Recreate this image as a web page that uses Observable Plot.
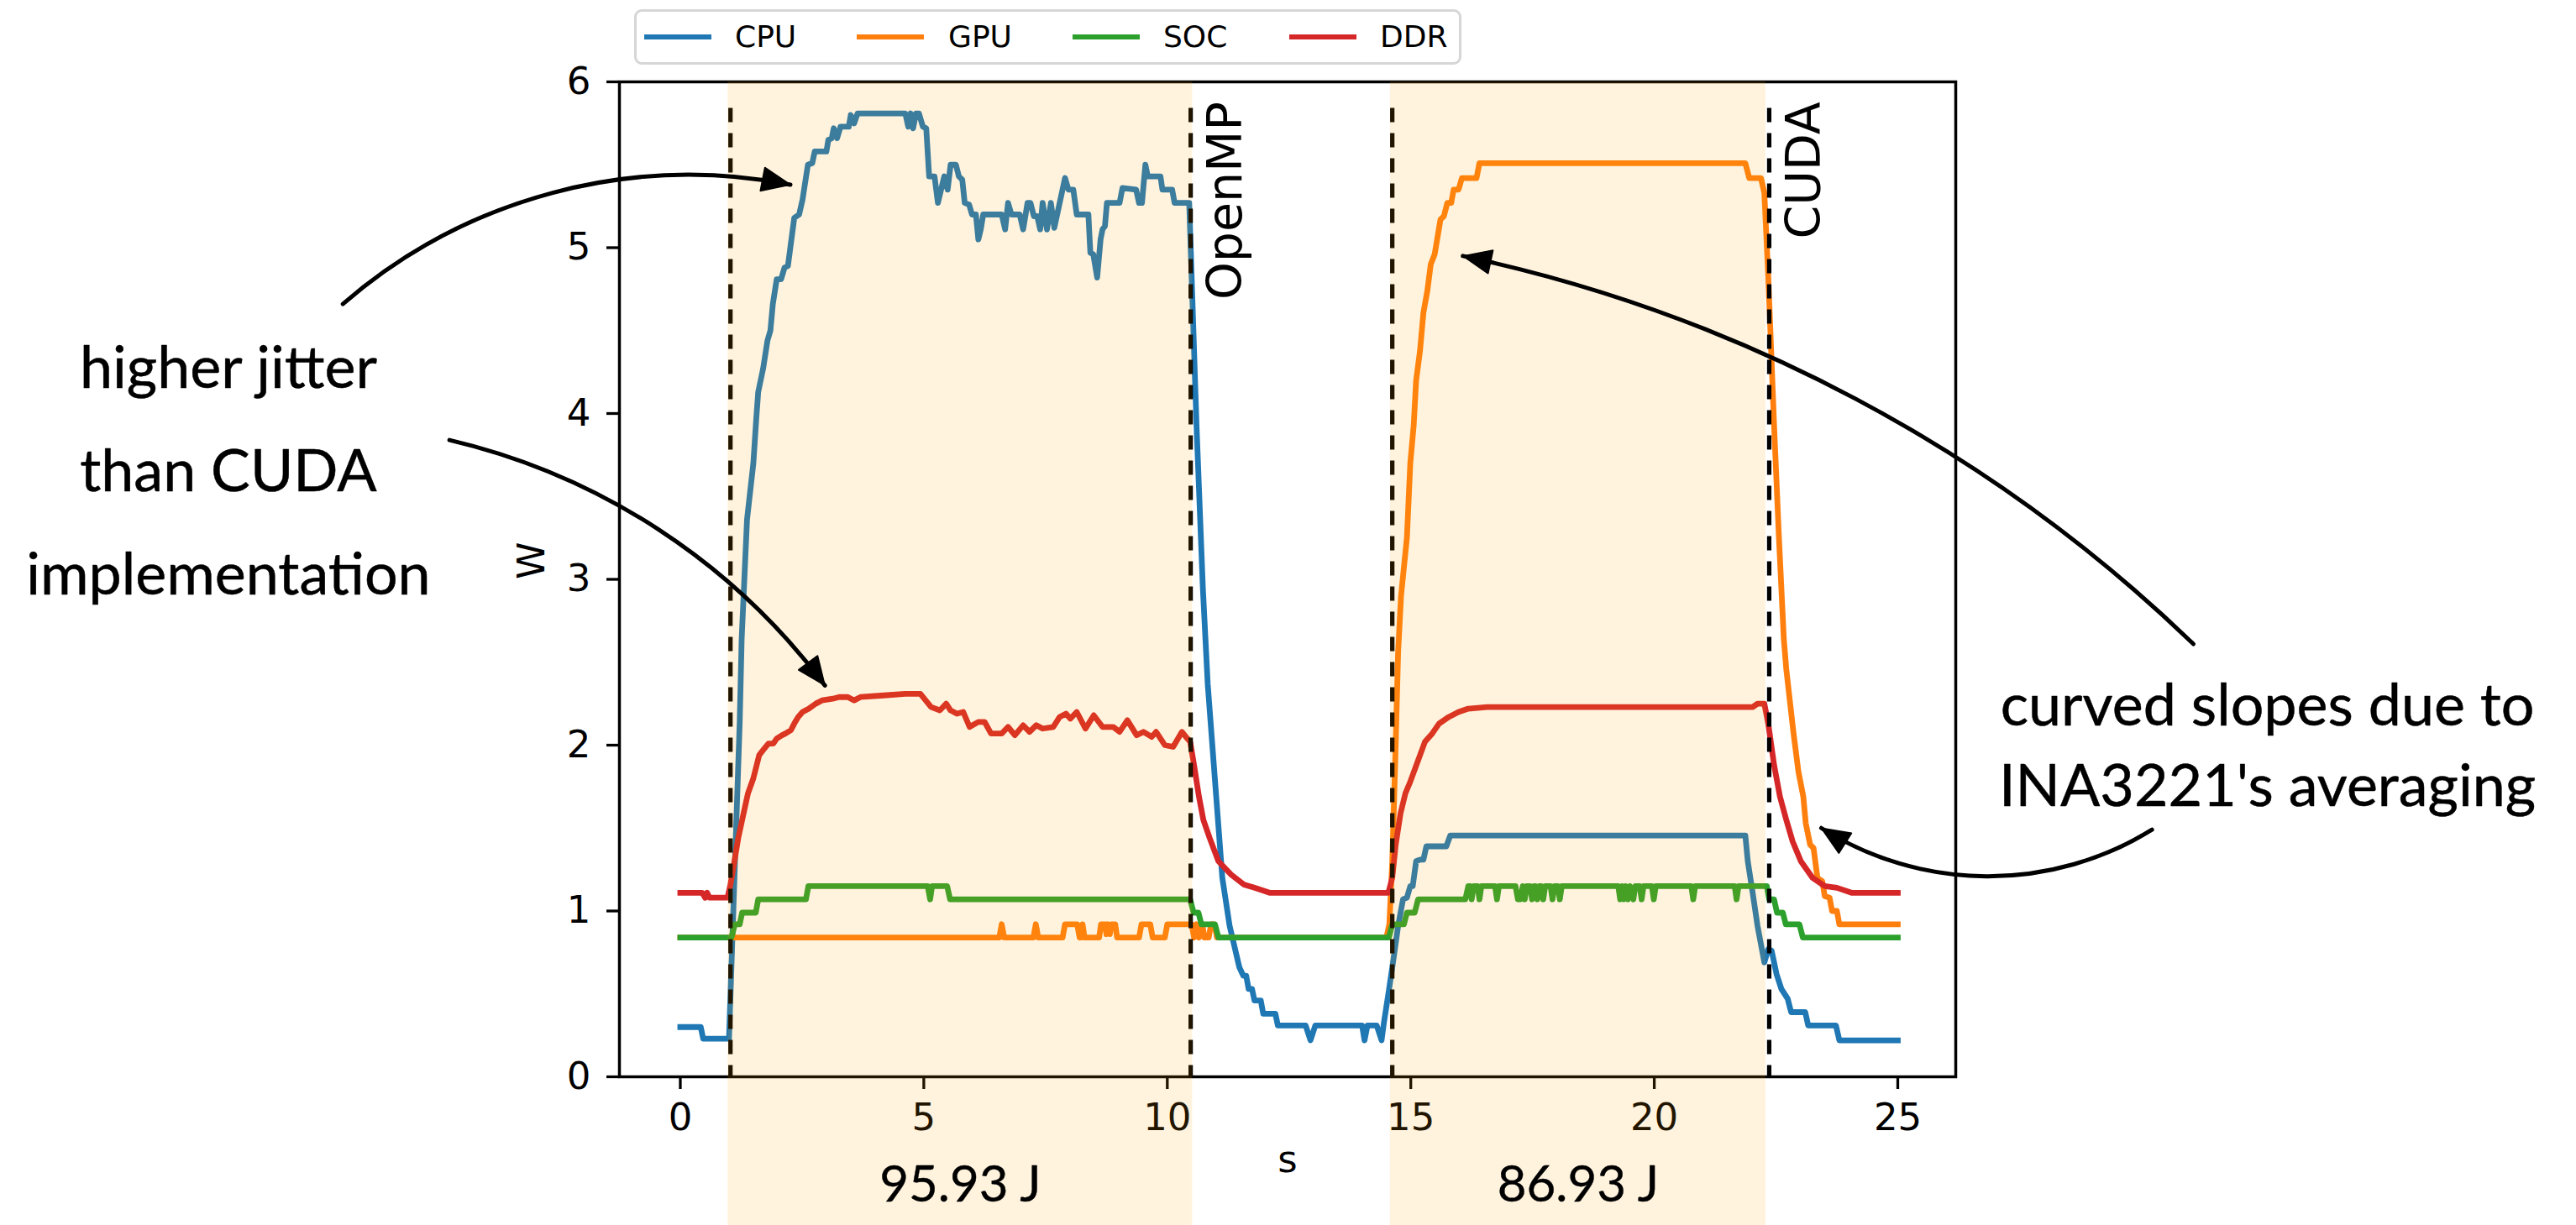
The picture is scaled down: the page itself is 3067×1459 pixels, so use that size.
<!DOCTYPE html>
<html>
<head>
<meta charset="utf-8">
<script src="https://cdn.jsdelivr.net/npm/d3@7"></script>
<script src="https://cdn.jsdelivr.net/npm/@observablehq/plot@0.6"></script>
<style>
html, body { margin: 0; padding: 0; background: #fff; overflow: hidden; }
#wrap { position: relative; width: 3067px; height: 1459px; overflow: hidden; background: #fff; }
#legend { position: absolute; left: 755px; top: 11px; width: 979px; height: 60px; border: 3px solid #d6d6d6; border-radius: 9px; background: #fff; font-family: "DejaVu Sans"; font-size: 36px; color: #000; }
#legend .sw { position: absolute; top: 27px; width: 80px; height: 6px; }
#legend .lb { position: absolute; top: 9px; line-height: 42px; }
</style>
</head>
<body>
<div id="wrap"><div id="chart"></div><div id="legend"></div></div>
<script>
// ---------- data ----------
const seriesNames = ["CPU", "GPU", "SOC", "DDR"];
const seriesColors = ["#1f77b4", "#ff7f0e", "#2ca02c", "#d62728"];
const xTicks = [0, 5, 10, 15, 20, 25];
const yTicks = [0, 1, 2, 3, 4, 5, 6];

// [time s, power W]
const cpu = [[0,0.30],[0.42,0.30],[0.47,0.23],[1.0,0.23],[1.1,1.1],[1.22,2.14],[1.26,2.64],[1.37,3.36],[1.50,3.70],[1.56,3.97],[1.60,4.13],[1.70,4.27],[1.79,4.44],[1.85,4.50],[1.90,4.66],[1.98,4.81],[2.07,4.81],[2.14,4.88],[2.21,4.89],[2.34,5.18],[2.44,5.20],[2.51,5.29],[2.62,5.50],[2.71,5.51],[2.76,5.58],[3.00,5.58],[3.04,5.65],[3.11,5.66],[3.15,5.72],[3.22,5.66],[3.29,5.73],[3.46,5.73],[3.50,5.80],[3.57,5.75],[3.64,5.81],[4.62,5.81],[4.68,5.73],[4.73,5.81],[4.78,5.72],[4.84,5.81],[4.90,5.81],[4.98,5.73],[5.05,5.72],[5.11,5.43],[5.22,5.43],[5.29,5.27],[5.42,5.43],[5.49,5.35],[5.55,5.50],[5.66,5.50],[5.72,5.43],[5.79,5.41],[5.84,5.27],[5.93,5.26],[5.99,5.20],[6.07,5.20],[6.12,5.05],[6.17,5.11],[6.22,5.20],[6.60,5.20],[6.67,5.11],[6.73,5.27],[6.80,5.20],[6.97,5.20],[7.04,5.11],[7.13,5.27],[7.19,5.27],[7.26,5.19],[7.33,5.19],[7.39,5.11],[7.44,5.27],[7.53,5.11],[7.61,5.27],[7.68,5.12],[7.90,5.42],[7.97,5.35],[8.07,5.35],[8.14,5.20],[8.38,5.20],[8.42,4.97],[8.48,4.96],[8.56,4.82],[8.63,5.05],[8.67,5.11],[8.72,5.13],[8.76,5.27],[9.02,5.27],[9.08,5.36],[9.36,5.35],[9.42,5.27],[9.48,5.27],[9.55,5.50],[9.60,5.43],[9.86,5.43],[9.90,5.35],[10.10,5.35],[10.15,5.27],[10.45,5.27],[10.6,3.93],[10.73,2.95],[10.83,2.37],[10.93,1.98],[11.03,1.59],[11.13,1.20],[11.28,0.91],[11.48,0.66],[11.56,0.61],[11.62,0.61],[11.67,0.53],[11.74,0.53],[11.79,0.46],[11.92,0.46],[11.97,0.38],[12.22,0.38],[12.27,0.31],[12.84,0.31],[12.94,0.22],[13.04,0.31],[14.00,0.31],[14.05,0.22],[14.11,0.31],[14.30,0.31],[14.40,0.22],[14.45,0.33],[14.55,0.52],[14.64,0.70],[14.74,0.91],[14.84,1.07],[14.92,1.08],[14.99,1.15],[15.04,1.15],[15.11,1.30],[15.19,1.31],[15.26,1.31],[15.32,1.39],[15.73,1.39],[15.81,1.455],[21.87,1.455],[21.92,1.30],[22.02,1.11],[22.12,0.91],[22.26,0.69],[22.34,0.77],[22.41,0.76],[22.51,0.62],[22.61,0.53],[22.74,0.47],[22.81,0.39],[23.10,0.39],[23.16,0.31],[23.73,0.31],[23.80,0.22],[25.0,0.22]];

const gpu = [[0,0.84],[6.55,0.84],[6.6,0.92],[6.65,0.84],[7.25,0.84],[7.3,0.92],[7.35,0.84],[7.85,0.84],[7.9,0.92],[8.15,0.92],[8.2,0.84],[8.23,0.84],[8.26,0.92],[8.3,0.84],[8.6,0.84],[8.64,0.92],[8.72,0.92],[8.75,0.86],[8.78,0.92],[8.82,0.86],[8.85,0.92],[8.93,0.92],[8.97,0.84],[9.42,0.84],[9.47,0.92],[9.65,0.92],[9.7,0.84],[9.95,0.84],[10.0,0.92],[10.5,0.92],[10.55,0.84],[10.6,0.92],[10.65,0.84],[10.72,0.92],[10.76,0.84],[10.85,0.84],[10.9,0.92],[10.97,0.92],[11.02,0.84],[14.5,0.84],[14.56,0.92],[14.62,1.3],[14.68,1.9],[14.74,2.56],[14.8,2.9],[14.92,3.25],[14.99,3.7],[15.06,3.93],[15.11,4.2],[15.19,4.38],[15.26,4.61],[15.34,4.74],[15.41,4.9],[15.49,4.96],[15.53,5.03],[15.61,5.17],[15.68,5.19],[15.75,5.27],[15.83,5.27],[15.88,5.35],[15.98,5.35],[16.05,5.42],[16.35,5.42],[16.41,5.51],[21.87,5.51],[21.95,5.42],[22.19,5.42],[22.26,5.33],[22.34,4.83],[22.46,3.93],[22.56,3.25],[22.66,2.64],[22.71,2.46],[22.86,2.07],[22.96,1.84],[23.06,1.69],[23.11,1.53],[23.2,1.40],[23.27,1.38],[23.35,1.20],[23.45,1.18],[23.5,1.09],[23.6,1.08],[23.65,1.0],[23.75,1.0],[23.8,0.92],[25.0,0.92]];

const soc = [[0,0.84],[1.05,0.84],[1.12,0.92],[1.22,0.92],[1.27,0.99],[1.55,0.99],[1.6,1.07],[2.58,1.07],[2.63,1.15],[5.08,1.15],[5.13,1.07],[5.17,1.15],[5.48,1.15],[5.54,1.07],[10.47,1.07],[10.54,0.99],[10.64,0.99],[10.70,0.92],[10.98,0.92],[11.05,0.84],[14.55,0.84],[14.62,0.92],[14.86,0.92],[14.92,0.99],[15.08,0.99],[15.15,1.07],[16.12,1.07],[16.18,1.15],[16.22,1.15],[16.25,1.07],[16.29,1.15],[16.37,1.15],[16.41,1.07],[16.45,1.15],[16.73,1.15],[16.77,1.07],[16.81,1.15],[17.15,1.15],[17.20,1.07],[17.25,1.07],[17.30,1.15],[17.34,1.07],[17.38,1.15],[17.45,1.15],[17.49,1.07],[17.53,1.15],[17.56,1.15],[17.6,1.07],[17.64,1.15],[17.68,1.15],[17.72,1.07],[17.76,1.15],[17.87,1.15],[17.91,1.07],[17.95,1.15],[18.02,1.15],[18.06,1.07],[18.1,1.15],[19.26,1.15],[19.3,1.07],[19.34,1.15],[19.37,1.07],[19.41,1.15],[19.46,1.07],[19.5,1.15],[19.57,1.07],[19.61,1.15],[19.7,1.15],[19.74,1.07],[19.78,1.15],[19.95,1.15],[19.99,1.07],[20.03,1.15],[20.76,1.15],[20.8,1.07],[20.84,1.15],[21.65,1.15],[21.69,1.07],[21.73,1.15],[22.31,1.15],[22.36,1.07],[22.46,1.07],[22.52,0.99],[22.64,0.99],[22.70,0.92],[22.98,0.92],[23.05,0.84],[25.0,0.84]];

const ddr = [[0,1.11],[0.45,1.11],[0.51,1.08],[0.55,1.11],[0.6,1.08],[0.97,1.08],[1.03,1.16],[1.10,1.28],[1.19,1.44],[1.30,1.59],[1.39,1.71],[1.50,1.80],[1.62,1.94],[1.70,1.97],[1.81,2.01],[1.91,2.01],[1.98,2.04],[2.09,2.06],[2.16,2.07],[2.27,2.09],[2.34,2.13],[2.42,2.17],[2.51,2.20],[2.64,2.22],[2.78,2.25],[2.91,2.27],[3.13,2.28],[3.26,2.29],[3.44,2.29],[3.57,2.27],[3.70,2.29],[4.18,2.30],[4.62,2.31],[4.93,2.31],[5.15,2.23],[5.33,2.21],[5.46,2.25],[5.55,2.21],[5.68,2.19],[5.81,2.20],[5.94,2.11],[6.12,2.14],[6.25,2.14],[6.38,2.07],[6.60,2.07],[6.73,2.11],[6.87,2.06],[7.04,2.12],[7.17,2.08],[7.31,2.12],[7.44,2.10],[7.66,2.11],[7.79,2.17],[7.92,2.19],[8.01,2.16],[8.14,2.20],[8.32,2.10],[8.49,2.18],[8.67,2.11],[8.89,2.11],[9.02,2.08],[9.18,2.15],[9.37,2.06],[9.51,2.08],[9.68,2.05],[9.77,2.08],[9.95,2.00],[10.12,1.99],[10.30,2.08],[10.41,2.04],[10.47,2.02],[10.56,1.86],[10.65,1.69],[10.74,1.55],[10.87,1.44],[11.05,1.30],[11.31,1.22],[11.57,1.16],[11.79,1.14],[12.10,1.11],[14.54,1.11],[14.62,1.20],[14.69,1.40],[14.79,1.59],[14.89,1.71],[14.99,1.78],[15.09,1.86],[15.19,1.94],[15.29,2.02],[15.44,2.07],[15.58,2.13],[15.78,2.17],[15.98,2.20],[16.18,2.22],[16.57,2.23],[22.02,2.23],[22.12,2.25],[22.26,2.25],[22.34,2.13],[22.46,1.88],[22.58,1.69],[22.71,1.55],[22.84,1.42],[23.01,1.30],[23.25,1.20],[23.50,1.15],[23.75,1.14],[24.05,1.11],[25.0,1.11]];

// phases (shaded spans) and their energy labels
const phaseStart = [0.98, 14.58];
const phaseEnd = [10.52, 22.29];
const phaseEnergy = ["95.93 J", "86.93 J"];
// dashed markers
const markerX = [1.03, 10.48, 14.62, 22.36];
const markerTop = 5.84;
const implNames = ["OpenMP", "CUDA"];
const implX = [10.48, 22.36];
// annotations
const noteLeft = "higher jitter\nthan CUDA\nimplementation";
const noteRight = "curved slopes due to\nINA3221's averaging";
const arrowStart = [[-6.93, 4.66], [-4.74, 3.84], [31.07, 2.61], [30.22, 1.49]];
const arrowEnd = [[2.26, 5.38], [2.97, 2.36], [16.07, 4.95], [23.43, 1.50]];
const arrowBend = [26, 20, -16, 32];

// ---------- build ----------
const table = [cpu, gpu, soc, ddr].flatMap((arr, i) => arr.map(([t, w]) => ({series: seriesNames[i], t, w})));
const phases = phaseStart.map((s, i) => ({start: s, end: phaseEnd[i], label: phaseEnergy[i], mid: (s + phaseEnd[i]) / 2}));
const impl = implNames.map((n, i) => ({x: implX[i], text: n}));
const arrows = arrowStart.map((s, i) => ({x1: s[0], y1: s[1], x2: arrowEnd[i][0], y2: arrowEnd[i][1], bend: arrowBend[i]}));

const chart = Plot.plot({
  width: 3067,
  height: 1459,
  marginLeft: 737,
  marginRight: 739,
  marginTop: 97,
  marginBottom: 177,
  style: {fontFamily: "DejaVu Sans", fontSize: "45px", background: "white", color: "black", overflow: "visible"},
  x: {domain: [-1.25, 26.19]},
  y: {domain: [0, 6]},
  color: {domain: seriesNames, range: seriesColors},
  marks: [
    Plot.axisX({ticks: xTicks, tickSize: 15, tickPadding: 17, strokeWidth: 3.3, label: null, tickFormat: d => String(d)}),
    Plot.axisY({ticks: yTicks, tickSize: 15, tickPadding: 19, strokeWidth: 3.3, label: null, tickFormat: d => String(d)}),
    Plot.frame({stroke: "black", strokeWidth: 3.5}),
    ...seriesNames.map(s => Plot.line(table.filter(d => d.series === s), {x: "t", y: "w", stroke: "series", strokeWidth: 6.8, strokeLinejoin: "round", strokeLinecap: "square"})),
    Plot.ruleX(markerX, {x: d => d, y1: markerTop, y2: 0, stroke: "black", strokeWidth: 5.2, strokeDasharray: "17,13"}),
    Plot.rect(phases, {x1: "start", x2: "end", y1: -0.9, y2: 6, fill: "#ffa500", fillOpacity: 0.13}),
    Plot.text(impl, {x: "x", y: 5.88, text: "text", rotate: -90, textAnchor: "end", lineAnchor: "top", dx: 20, fontSize: 57, fontFamily: "DejaVu Sans", fill: "black"}),
    Plot.text(phases, {x: "mid", y: -0.653, text: "label", fontSize: 60, fontFamily: "Lato", fill: "black", stroke: "black", strokeWidth: 0.4}),
    Plot.text(["W"], {frameAnchor: "left", text: d => d, dx: -104, rotate: -90, fontSize: 45, fill: "black"}),
    Plot.text(["s"], {frameAnchor: "bottom", text: d => d, dy: 113, fontSize: 45, fill: "black"}),
    Plot.text([noteLeft], {x: -9.28, y: 3.73, text: d => d, fontSize: 70, lineHeight: 1.76, fontFamily: "Lato", fill: "black", stroke: "black", strokeWidth: 0.5}),
    Plot.text([noteRight], {x: 32.59, y: 2.03, text: d => d, fontSize: 70, lineHeight: 1.37, fontFamily: "Lato", fill: "black", stroke: "black", strokeWidth: 0.5}),
    ...arrows.map(a => Plot.arrow([a], {x1: "x1", y1: "y1", x2: "x2", y2: "y2", bend: a.bend, stroke: "black", strokeWidth: 5, headAngle: 46, headLength: 11}))
  ]
});
document.getElementById("chart").appendChild(chart);

// fill the arrow heads (matplotlib-style "-|>")
chart.querySelectorAll('g[aria-label="arrow"] path').forEach(p => {
  const d = p.getAttribute("d");
  const i = d ? d.indexOf("M", 1) : -1;
  if (i > 0) {
    p.setAttribute("d", d.slice(0, i));
    const h = document.createElementNS("http://www.w3.org/2000/svg", "path");
    h.setAttribute("d", d.slice(i) + "Z");
    h.setAttribute("fill", "black");
    h.setAttribute("stroke", "black");
    h.setAttribute("stroke-width", "1.5");
    h.setAttribute("stroke-linejoin", "miter");
    p.parentNode.appendChild(h);
  }
});

// legend
const legendSwatchX = [9, 262, 519, 777];
const legendLabelX = [117, 371, 627, 885];
const legend = document.getElementById("legend");
seriesNames.forEach((name, i) => {
  const sw = document.createElement("div");
  sw.className = "sw";
  sw.style.left = legendSwatchX[i] + "px";
  sw.style.background = seriesColors[i];
  legend.appendChild(sw);
  const lb = document.createElement("div");
  lb.className = "lb";
  lb.style.left = legendLabelX[i] + "px";
  lb.textContent = name;
  legend.appendChild(lb);
});
</script>
</body>
</html>
